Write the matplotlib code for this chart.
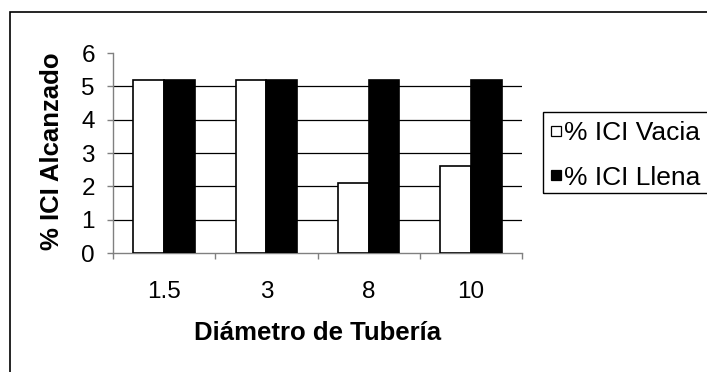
import numpy as np
import matplotlib
matplotlib.use("Agg")
import matplotlib.pyplot as plt
from matplotlib.patches import Rectangle
from matplotlib.lines import Line2D

plt.rcParams['font.family'] = ['Liberation Sans', 'DejaVu Sans']

diametros = ["1.5", "3", "8", "10"]
ici_vacia = [5.2, 5.2, 2.1, 2.6]
ici_llena = [5.2, 5.2, 5.2, 5.2]
series = ["% ICI Vacia", "% ICI Llena"]
colores = ["white", "black"]
yticks = [0, 1, 2, 3, 4, 5, 6]

fig = plt.figure(figsize=(7.07, 3.72), dpi=100)
ax = fig.add_axes([113 / 707, 1 - 253 / 372, 409 / 707, 200 / 372])

x = np.arange(len(diametros))
w = 0.3
ax.bar(x - w / 2, ici_vacia, w, color=colores[0], edgecolor="black", linewidth=1.2,
       label=series[0], zorder=3)
ax.bar(x + w / 2, ici_llena, w, color=colores[1], edgecolor="black", linewidth=1.2,
       label=series[1], zorder=3)

ax.set_xlim(-0.5, len(diametros) - 0.5)
ax.set_ylim(0, 6)
ax.set_yticks(yticks)
ax.tick_params(axis="y", labelsize=17.5, direction="out", length=4, width=1,
               color="#808080", pad=9)

# ticks between the categories, labels centred on them
ax.set_xticks(np.arange(-0.5, len(diametros), 1.0))
ax.set_xticklabels([])
ax.set_xticks(x, minor=True)
ax.set_xticklabels(diametros, minor=True)
ax.tick_params(axis="x", which="major", direction="out", length=4, width=1, color="#808080")
ax.tick_params(axis="x", which="minor", length=0, labelsize=17.5, pad=20)

ax.yaxis.grid(True, color="black", linewidth=0.9, zorder=0)
ax.set_axisbelow(True)
ax.get_ygridlines()[-1].set_visible(False)
ax.get_ygridlines()[0].set_visible(False)

for s in ["top", "right"]:
    ax.spines[s].set_visible(False)
for s in ["left", "bottom"]:
    ax.spines[s].set_color("#808080")
    ax.spines[s].set_linewidth(1.0)

ax.set_xlabel("Diámetro de Tubería", fontsize=18.5, fontweight="bold")
ax.xaxis.set_label_coords(0.5, -0.40)
ax.xaxis.label.set_va("center")
ax.set_ylabel("% ICI Alcanzado", fontsize=18.5, fontweight="bold")
ax.yaxis.set_label_coords(-0.149, 0.507)
ax.yaxis.label.set_va("center")

# small square keys; the legend box runs past the right edge of the figure
handles = [Line2D([], [], linestyle="none", marker="s", markersize=6.5,
                  markerfacecolor=c, markeredgecolor="black", markeredgewidth=0.9)
           for c in colores]
leg = fig.legend(handles, series, loc="upper left",
                 bbox_to_anchor=(550 / 707, 1 - 121 / 372),
                 fontsize=19, frameon=False,
                 handlelength=0.45, handletextpad=0.08,
                 borderpad=0, labelspacing=0.78, borderaxespad=0)
fig.patches.append(Rectangle((543 / 707, 1 - 193 / 372), 0.5, 81 / 372,
                             transform=fig.transFigure, fill=False,
                             edgecolor="black", linewidth=1.0))

# outer chart border
fig.patches.append(Rectangle((10 / 707, -0.1), 1.5, 1.1 - 12 / 372,
                             transform=fig.transFigure, fill=False,
                             edgecolor="black", linewidth=1.2))

fig.savefig("out.png", dpi=100)
